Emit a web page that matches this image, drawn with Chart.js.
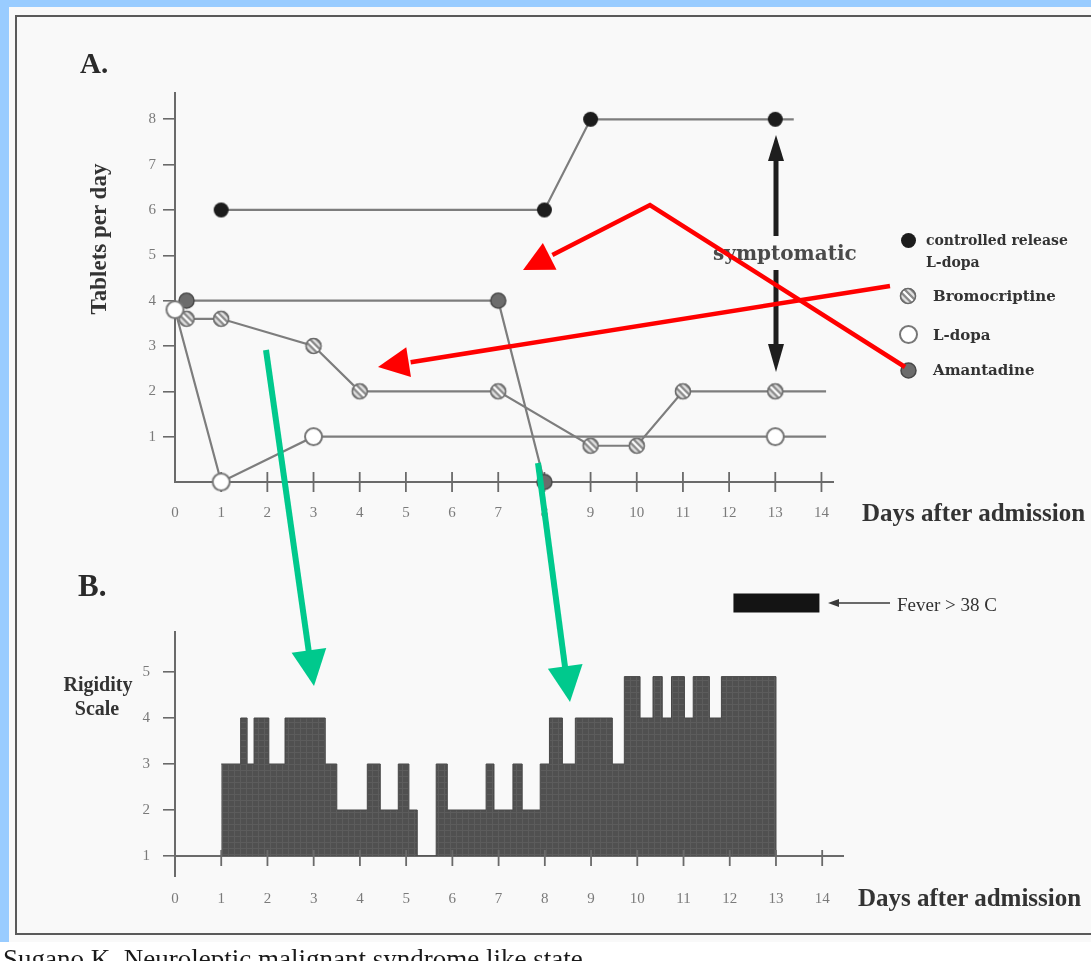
<!DOCTYPE html>
<html><head><meta charset="utf-8">
<script src="https://cdn.jsdelivr.net/npm/chart.js@4.4.1/dist/chart.umd.min.js"></script>
<style>
html,body{margin:0;padding:0;}
body{width:1091px;height:961px;position:relative;overflow:hidden;background:#fff;font-family:"Liberation Serif","DejaVu Serif",serif;}
#blueL{position:absolute;left:0;top:0;width:9px;height:942px;background:#99ccff;}
#blueT{position:absolute;left:0;top:0;width:1091px;height:7px;background:#99ccff;}
#scan{position:absolute;left:0;top:0;width:1091px;height:961px;filter:blur(0.5px);}
#page{position:absolute;left:9px;top:7px;width:1082px;height:935px;background:#f9f9f9;}
#frame{position:absolute;left:15px;top:15px;width:1100px;height:916px;border:2px solid #5a5a5a;border-right:none;}
canvas.ch{position:absolute;left:0;}
.t{position:absolute;white-space:nowrap;line-height:1;transform:translateY(-50%);color:#2a2a2a;}
.lg{font-family:"DejaVu Serif",serif;font-weight:bold;color:#333;}
#overlay{position:absolute;left:0;top:0;}
#caption{position:absolute;left:3px;top:946px;font-size:27px;line-height:1;color:#1a1a1a;white-space:nowrap;}
</style></head>
<body>
<div id="scan">
  <div id="page"></div>
  <div id="frame"></div>
  <canvas id="cA" class="ch" width="1091" height="540" style="top:0"></canvas>
  <canvas id="cB" class="ch" width="1091" height="380" style="top:560px"></canvas>

  <div class="t" style="left:80px;top:63px;font-size:29px;font-weight:bold;">A.</div>
  <div class="t" style="left:78px;top:585px;font-size:31px;font-weight:bold;">B.</div>
  <div class="t" style="left:98px;top:239px;font-size:23px;font-weight:bold;transform:translate(-50%,-50%) rotate(-90deg);color:#333;">Tablets per day</div>
  <div class="t" style="left:98px;top:684px;font-size:20px;font-weight:bold;transform:translate(-50%,-50%);color:#333;">Rigidity</div>
  <div class="t" style="left:97px;top:708px;font-size:20px;font-weight:bold;transform:translate(-50%,-50%);color:#333;">Scale</div>
  <div class="t lg" style="left:713px;top:253px;font-size:20px;color:#4a4a4a;">symptomatic</div>

  <div class="t lg" style="left:926px;top:240px;font-size:14px;">controlled release</div>
  <div class="t lg" style="left:926px;top:262px;font-size:14px;">L-dopa</div>
  <div class="t lg" style="left:933px;top:296px;font-size:15px;">Bromocriptine</div>
  <div class="t lg" style="left:933px;top:335px;font-size:15px;">L-dopa</div>
  <div class="t lg" style="left:933px;top:370px;font-size:15px;">Amantadine</div>
  <div id="legendMarks"></div>

  <div class="t" style="left:862px;top:512px;font-size:25px;font-weight:bold;color:#333;">Days after admission</div>
  <div class="t" style="left:858px;top:897px;font-size:25px;font-weight:bold;color:#333;">Days after admission</div>
  <div class="t" style="left:897px;top:604px;font-size:19px;color:#333;">Fever &gt; 38 C</div>
</div>
<div id="blueL"></div>
<div id="blueT"></div>
<div id="caption">Sugano K. Neuroleptic malignant syndrome like state</div>
<svg id="overlay" width="1091" height="961"></svg>

<script>
// ---------- data ----------
const dayTicks = [0,1,2,3,4,5,6,7,8,9,10,11,12,13,14];
const tabletTicks = [1,2,3,4,5,6,7,8];
const rigidityTicks = [1,2,3,4,5];

const ctrlDays    = [1, 8, 9, 13];
const ctrlTablets = [6, 6, 8, 8];
const ctrlLineEnd = 13.4;

const bromoDays    = [0.25, 1, 3, 4, 7, 9, 10, 11, 13];
const bromoTablets = [3.6, 3.6, 3, 2, 2, 0.8, 0.8, 2, 2];
const bromoLineEnd = 14.1;

const ldopaDays    = [0, 1, 3, 13];
const ldopaTablets = [3.8, 0, 1, 1];
const ldopaLineEnd = 14.1;

const amanDays    = [0.25, 7, 8];
const amanTablets = [4, 4, 0];

// rigidity score holds from each day value until the next one
const rigidityDays   = [1, 1.42, 1.56, 1.71, 2.03, 2.38, 3.25, 3.5, 4.16, 4.44, 4.83, 5.06, 5.24, 5.65, 5.89, 6.73, 6.9, 7.31, 7.51, 7.9, 8.1, 8.38, 8.66, 9.46, 9.72, 10.06, 10.34, 10.54, 10.74, 11.02, 11.21, 11.56, 11.82, 13];
const rigidityScores = [3, 4, 3, 4, 3, 4, 3, 2, 3, 2, 3, 2, 1, 3, 2, 3, 2, 3, 2, 3, 4, 3, 4, 3, 4.9, 4, 4.9, 4, 4.9, 4, 4.9, 4, 4.9, 1];

const feverDays  = [12.08, 13.94];
const feverLevel = [6.5, 6.5];

// ---------- marker images ----------
function mk(r, draw){const c=document.createElement('canvas');c.width=c.height=Math.ceil(2*r+4);const g=c.getContext('2d');g.translate(c.width/2,c.height/2);draw(g,r);return c;}
const mCtrl = mk(7.5,(g,r)=>{g.beginPath();g.arc(0,0,r,0,7);g.fillStyle='#1c1c1c';g.fill();});
const mAman = mk(7.5,(g,r)=>{g.beginPath();g.arc(0,0,r,0,7);g.fillStyle='#6c6c6c';g.fill();g.lineWidth=1.5;g.strokeStyle='#484848';g.stroke();});
const mLdopa = mk(8.5,(g,r)=>{g.beginPath();g.arc(0,0,r,0,7);g.fillStyle='#ffffff';g.fill();g.lineWidth=2;g.strokeStyle='#777';g.stroke();});
const mBromo = mk(8,(g,r)=>{
  g.beginPath();g.arc(0,0,r,0,7);g.fillStyle='#b4b4b4';g.fill();
  g.save();g.clip();
  g.lineWidth=2.2;
  for(let k=-3;k<=3;k++){g.strokeStyle=(k===0)?'#ffffff':(k%2? '#8a8a8a':'#e0e0e0');g.beginPath();g.moveTo(-r+k*3.2,-r);g.lineTo(r+k*3.2,r);g.stroke();}
  g.restore();
  g.beginPath();g.arc(0,0,r-0.5,0,7);g.lineWidth=1.6;g.strokeStyle='#6a6a6a';g.stroke();
});

// legend markers
const lm=document.getElementById('legendMarks');
[[mCtrl,908,240],[mBromo,908,296],[mLdopa,908,334],[mAman,908,370]].forEach(([c,x,y])=>{
  const cc=document.createElement('canvas');cc.width=c.width;cc.height=c.height;cc.getContext('2d').drawImage(c,0,0);
  cc.style.cssText='position:absolute;left:'+(x-c.width/2)+'px;top:'+(y-c.height/2)+'px;';lm.appendChild(cc);
});

// ---------- helpers ----------
function pts(days, vals, end){const p=days.map((d,i)=>({x:d,y:vals[i]}));if(end!==undefined)p.push({x:end,y:vals[vals.length-1],tail:true});return p;}
const crossTicks={
  id:'crossTicks',
  draw(chart,o){const ctx=chart.ctx,x=chart.scales.x,y0=chart.chartArea.bottom;ctx.save();ctx.strokeStyle='#6a6a6a';ctx.lineWidth=1.8;
    x.ticks.forEach(t=>{if(t.value===0)return;const px=x.getPixelForValue(t.value);ctx.beginPath();ctx.moveTo(px,y0-o.up);ctx.lineTo(px,y0+o.down);ctx.stroke();});
    if(o.yExt){ctx.lineWidth=2;ctx.beginPath();ctx.moveTo(chart.chartArea.left,y0);ctx.lineTo(chart.chartArea.left,y0+o.yExt);ctx.stroke();}
    ctx.restore();},
  beforeDatasetsDraw(chart,a,o){if(o.before)this.draw(chart,o);},
  afterDatasetsDraw(chart,a,o){if(!o.before)this.draw(chart,o);}
};
Chart.register(crossTicks);
const tickFont={family:'"Liberation Serif", serif',size:15};
function xScale(max,pad,h){return {type:'linear',min:0,max:max,
  afterBuildTicks:s=>{s.ticks=dayTicks.map(v=>({value:v}));},
  afterFit:s=>{s.height=h;},
  grid:{display:false},border:{display:true,color:'#6a6a6a',width:2},
  ticks:{color:'#7a7a7a',font:tickFont,padding:pad,maxRotation:0,autoSkip:false,callback:v=>String(v)}};}
function yScale(min,max,ticks,pad){return {type:'linear',min:min,max:max,
  afterBuildTicks:s=>{s.ticks=ticks.map(v=>({value:v}));},
  afterFit:s=>{s.width=60;},
  grid:{display:true,drawOnChartArea:false,drawTicks:true,tickLength:12,color:'#6a6a6a',lineWidth:1.6},
  border:{display:true,color:'#6a6a6a',width:2},
  ticks:{color:'#7a7a7a',font:tickFont,padding:pad,callback:v=>String(v)}};}
const lineGray='#7d7d7d';
function series(label,data,img,order){return {label:label,data:data,borderColor:lineGray,borderWidth:2.2,tension:0,
  pointStyle:img,pointRadius:c=>(c.raw&&c.raw.tail)?0:8,clip:false,order:order,fill:false};}

// ---------- chart A ----------
new Chart(document.getElementById('cA'),{
  type:'line',
  data:{datasets:[
    series('L-dopa',pts(ldopaDays,ldopaTablets,ldopaLineEnd),mLdopa,0),
    series('Bromocriptine',pts(bromoDays,bromoTablets,bromoLineEnd),mBromo,1),
    series('Amantadine',pts(amanDays,amanTablets),mAman,2),
    series('controlled release L-dopa',pts(ctrlDays,ctrlTablets,ctrlLineEnd),mCtrl,3)
  ]},
  options:{responsive:false,animation:false,devicePixelRatio:1,events:[],
    layout:{padding:{left:115,top:93,right:258,bottom:8}},
    plugins:{legend:{display:false},tooltip:{enabled:false},crossTicks:{up:10,down:10,before:true}},
    scales:{x:xScale(14.25,14,50),y:yScale(0,8.58,tabletTicks,7)}}
});

// ---------- chart B ----------
const cB=document.getElementById('cB');
const pc=document.createElement('canvas');pc.width=6;pc.height=6;
const pg=pc.getContext('2d');pg.fillStyle='#505050';pg.fillRect(0,0,6,6);pg.fillStyle='#5c5c5c';pg.fillRect(0,0,6,1);pg.fillRect(0,0,1,6);
const pattern=cB.getContext('2d').createPattern(pc,'repeat');
new Chart(cB,{
  type:'line',
  data:{datasets:[
    {label:'Rigidity',data:pts(rigidityDays,rigidityScores),stepped:'before',borderColor:'#474747',borderWidth:1,
     backgroundColor:pattern,fill:{value:1},pointRadius:0,tension:0},
    {label:'Fever > 38 C',data:pts(feverDays,feverLevel),borderColor:'#141414',borderWidth:19,borderCapStyle:'butt',
     pointRadius:0,clip:false,fill:false}
  ]},
  options:{responsive:false,animation:false,devicePixelRatio:1,events:[],
    layout:{padding:{left:115,top:72,right:248,bottom:14}},
    plugins:{legend:{display:false},tooltip:{enabled:false},crossTicks:{up:6,down:10,yExt:21,before:false}},
    scales:{x:xScale(14.45,26,70),y:yScale(1,5.87,rigidityTicks,13)}}
});

// ---------- overlay annotations ----------
const svg=document.getElementById('overlay');
let s='';
function head(x0,y0,x1,y1,len,hw,col){const dx=x1-x0,dy=y1-y0,L=Math.hypot(dx,dy),ux=dx/L,uy=dy/L,bx=x1-len*ux,by=y1-len*uy,nx=-uy,ny=ux;
  return {bx:bx,by:by,poly:'<polygon fill="'+col+'" points="'+x1+','+y1+' '+(bx+hw*nx)+','+(by+hw*ny)+' '+(bx-hw*nx)+','+(by-hw*ny)+'"/>'};}
// black double arrow
s+='<rect x="773.5" y="158" width="5" height="78" fill="#1e1e1e"/>';
s+='<polygon fill="#1e1e1e" points="776,135 768,161 784,161"/>';
s+='<rect x="773.5" y="270" width="5" height="76" fill="#1e1e1e"/>';
s+='<polygon fill="#1e1e1e" points="776,372 768,344 784,344"/>';
// fever pointer
s+='<line x1="836" y1="603" x2="890" y2="603" stroke="#3a3a3a" stroke-width="1.5"/>';
s+='<polygon fill="#3a3a3a" points="828,603 839,599 839,607"/>';
// red arrows
const red='#ff0000',green='#00c98d';
let h1=head(650,205,523,270,30,15,red);
s+='<polyline fill="none" stroke="'+red+'" stroke-width="4.5" stroke-linejoin="miter" points="905,367 650,205 '+(h1.bx+3*0.89)+','+(h1.by-3*0.455)+'"/>'+h1.poly;
let h2=head(890,286,378,367,31,15,red);
s+='<line stroke="'+red+'" stroke-width="4.5" x1="890" y1="286" x2="'+(h2.bx+2)+'" y2="'+h2.by+'"/>'+h2.poly;
let g1=head(266,350,314,686,36,17.5,green);
s+='<line stroke="'+green+'" stroke-width="6" x1="266" y1="350" x2="'+g1.bx+'" y2="'+(g1.by+2)+'"/>'+g1.poly;
let g2=head(538,463,570,702,36,17.5,green);
s+='<line stroke="'+green+'" stroke-width="6" x1="538" y1="463" x2="'+g2.bx+'" y2="'+(g2.by+2)+'"/>'+g2.poly;
svg.innerHTML=s;
</script>
</body></html>
